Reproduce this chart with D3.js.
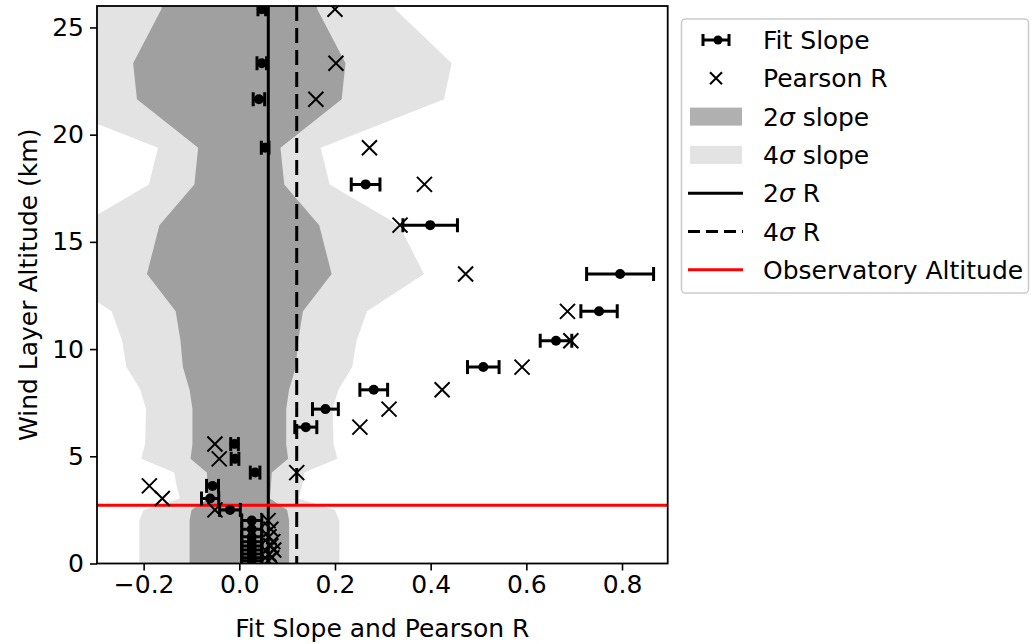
<!DOCTYPE html>
<html>
<head>
<meta charset="utf-8">
<script src="https://cdn.jsdelivr.net/npm/d3@7"></script>
<style>
  body { margin: 0; background: #fff; }
  svg { display: block; font-family: "DejaVu Sans", sans-serif; }
</style>
</head>
<body>
<svg id="chart" width="1033" height="644"></svg>
<script>
// ---- data ----
const altitudes = [0.13, 0.27, 0.44, 0.63, 0.82, 1.02, 1.25, 1.60, 2.00, 2.50, 3.03, 3.62, 4.24, 4.88, 5.57, 6.36, 7.20, 8.10, 9.16, 10.39, 11.76, 13.50, 15.78, 17.68, 19.39, 21.65, 23.33, 25.85];
const fitSlope  = [0.026, 0.026, 0.026, 0.026, 0.026, 0.026, 0.026, 0.026, 0.026, -0.0195, -0.061, -0.056, 0.033, -0.009, -0.010, 0.139, 0.180, 0.281, 0.510, 0.662, 0.752, 0.796, 0.399, 0.264, 0.054, 0.041, 0.047, 0.047];
const fitErr    = [0.021, 0.021, 0.021, 0.021, 0.021, 0.021, 0.021, 0.021, 0.021, 0.0216, 0.018, 0.0125, 0.010, 0.008, 0.008, 0.023, 0.027, 0.029, 0.033, 0.033, 0.038, 0.070, 0.057, 0.030, 0.008, 0.012, 0.010, 0.008];
const pearsonR  = [0.060, 0.068, 0.062, 0.072, 0.066, 0.070, 0.062, 0.066, 0.060, -0.051, -0.161, -0.188, 0.120, -0.042, -0.051, 0.252, 0.313, 0.424, 0.591, 0.693, 0.686, 0.473, 0.336, 0.387, 0.272, 0.160, 0.202, 0.200];

// slope significance bands (half-widths)
const bandAlt   = [0.00, 2.00, 2.50, 3.03, 3.62, 4.24, 4.88, 5.57, 6.36, 7.20, 8.10, 9.16, 10.39, 11.76, 13.50, 15.78, 17.68, 19.39, 21.65, 23.33, 25.85, 26.00];
const sigma2    = [0.104, 0.104, 0.100, 0.064, 0.066, 0.068, 0.102, 0.098, 0.098, 0.098, 0.104, 0.118, 0.123, 0.133, 0.193, 0.167, 0.094, 0.086, 0.214, 0.222, 0.163, 0.162];
const sigma4    = [0.209, 0.209, 0.200, 0.124, 0.131, 0.136, 0.205, 0.197, 0.196, 0.195, 0.207, 0.236, 0.245, 0.267, 0.386, 0.334, 0.189, 0.170, 0.428, 0.444, 0.326, 0.324];

const r2sigma = 0.0606;
const r4sigma = 0.120;
const observatoryAlt = 2.72;

const xTicks = [-0.2, 0.0, 0.2, 0.4, 0.6, 0.8];
const yTicks = [0, 5, 10, 15, 20, 25];

const legendLabels = ["Fit Slope", "Pearson R", "2σ slope", "4σ slope", "2σ R", "4σ R", "Observatory Altitude"];

// ---- layout ----
const svg = d3.select("#chart");
const L = 97, R = 667.7, T = 6, B = 563.5;
const x = d3.scaleLinear().domain([-0.2975, 0.8955]).range([L, R]);
const y = d3.scaleLinear().domain([0, 26]).range([B, T]);

svg.append("defs").append("clipPath").attr("id", "clip")
  .append("rect").attr("x", L).attr("y", T).attr("width", R - L).attr("height", B - T);

const plot = svg.append("g").attr("clip-path", "url(#clip)");

const lightCol = "#e3e3e3", darkCol = "#a0a0a0";
const bandIdx = d3.range(bandAlt.length);

plot.append("path")
  .datum(bandIdx)
  .attr("fill", lightCol)
  .attr("d", d3.area().curve(d3.curveLinear)
    .y(i => y(bandAlt[i])).x0(i => x(-sigma4[i])).x1(i => x(sigma4[i])));

plot.append("path")
  .datum(bandIdx)
  .attr("fill", darkCol)
  .attr("d", d3.area().curve(d3.curveLinear)
    .y(i => y(bandAlt[i])).x0(i => x(-sigma2[i])).x1(i => x(sigma2[i])));

// vertical R significance lines
plot.append("line")
  .attr("x1", x(r2sigma)).attr("x2", x(r2sigma)).attr("y1", T).attr("y2", B)
  .attr("stroke", "#000").attr("stroke-width", 3);
plot.append("line")
  .attr("x1", x(r4sigma)).attr("x2", x(r4sigma)).attr("y1", T).attr("y2", B)
  .attr("stroke", "#000").attr("stroke-width", 3).attr("stroke-dasharray", "15,7");

// observatory altitude
plot.append("line")
  .attr("x1", L).attr("x2", R).attr("y1", y(observatoryAlt)).attr("y2", y(observatoryAlt))
  .attr("stroke", "#ff0000").attr("stroke-width", 3);

// error bars
const idx = d3.range(altitudes.length);
const eb = plot.append("g").attr("stroke", "#000").attr("stroke-width", 3);
idx.forEach(i => {
  const yy = y(altitudes[i]);
  const x0 = x(fitSlope[i] - fitErr[i]), x1 = x(fitSlope[i] + fitErr[i]);
  eb.append("line").attr("x1", x0).attr("x2", x1).attr("y1", yy).attr("y2", yy);
  eb.append("line").attr("x1", x0).attr("x2", x0).attr("y1", yy - 7).attr("y2", yy + 7);
  eb.append("line").attr("x1", x1).attr("x2", x1).attr("y1", yy - 7).attr("y2", yy + 7);
});
plot.append("g").selectAll("circle").data(idx).join("circle")
  .attr("cx", i => x(fitSlope[i])).attr("cy", i => y(altitudes[i])).attr("r", 5)
  .attr("fill", "#000");

// Pearson R crosses
const xs = 7.5;
plot.append("g").attr("stroke", "#000").attr("stroke-width", 2).attr("fill", "none")
  .selectAll("path").data(idx).join("path")
  .attr("d", i => {
    const cx = x(pearsonR[i]), cy = y(altitudes[i]);
    return `M${cx - xs},${cy - xs}L${cx + xs},${cy + xs}M${cx - xs},${cy + xs}L${cx + xs},${cy - xs}`;
  });

// ---- axes ----
const fs = 25;
const xAxis = svg.append("g").attr("transform", `translate(0,${B})`)
  .call(d3.axisBottom(x).tickValues(xTicks).tickFormat(d3.format(".1f")).tickSize(7).tickPadding(5));
const yAxis = svg.append("g").attr("transform", `translate(${L},0)`)
  .call(d3.axisLeft(y).tickValues(yTicks).tickFormat(d3.format("d")).tickSize(7).tickPadding(6));
[xAxis, yAxis].forEach(a => {
  a.select(".domain").remove();
  a.selectAll(".tick line").attr("stroke", "#000").attr("stroke-width", 1.6);
  a.selectAll(".tick text").attr("font-size", fs).attr("fill", "#000").attr("font-family", "DejaVu Sans");
});

// frame
svg.append("rect").attr("x", L).attr("y", T).attr("width", R - L).attr("height", B - T)
  .attr("fill", "none").attr("stroke", "#000").attr("stroke-width", 1.8);

// axis labels
svg.append("text").attr("x", (L + R) / 2).attr("y", 637).attr("text-anchor", "middle")
  .attr("font-size", fs).attr("fill", "#000").text("Fit Slope and Pearson R");
svg.append("text").attr("transform", `translate(37,${(T + B) / 2}) rotate(-90)`)
  .attr("text-anchor", "middle").attr("font-size", fs).attr("fill", "#000")
  .text("Wind Layer Altitude (km)");

// ---- legend ----
const lg = svg.append("g");
lg.append("rect").attr("x", 681.5).attr("y", 19).attr("width", 347).attr("height", 274).attr("rx", 4)
  .attr("fill", "#fff").attr("stroke", "#cccccc").attr("stroke-width", 1.6);
const rowY = d => 40 + d * 38.3;
const hx0 = 688, hx1 = 743, hc = 716;

legendLabels.forEach((lab, k) => {
  const cy = rowY(k);
  const g = lg.append("g");
  if (k === 0) {
    g.append("line").attr("x1", hc - 13).attr("x2", hc + 13).attr("y1", cy).attr("y2", cy).attr("stroke", "#000").attr("stroke-width", 3);
    g.append("line").attr("x1", hc - 13).attr("x2", hc - 13).attr("y1", cy - 6).attr("y2", cy + 6).attr("stroke", "#000").attr("stroke-width", 3);
    g.append("line").attr("x1", hc + 13).attr("x2", hc + 13).attr("y1", cy - 6).attr("y2", cy + 6).attr("stroke", "#000").attr("stroke-width", 3);
    g.append("circle").attr("cx", hc + 2).attr("cy", cy).attr("r", 4.5).attr("fill", "#000");
  } else if (k === 1) {
    const s = 6;
    g.append("path").attr("d", `M${hc - s},${cy - s}L${hc + s},${cy + s}M${hc - s},${cy + s}L${hc + s},${cy - s}`)
      .attr("stroke", "#000").attr("stroke-width", 2);
  } else if (k === 2 || k === 3) {
    g.append("rect").attr("x", 690).attr("y", cy - 9).attr("width", 52).attr("height", 18)
      .attr("fill", k === 2 ? "#b0b0b0" : "#e3e3e3");
  } else {
    const ln = g.append("line").attr("x1", hx0).attr("x2", hx1).attr("y1", cy).attr("y2", cy)
      .attr("stroke", k === 6 ? "#ff0000" : "#000").attr("stroke-width", 3);
    if (k === 5) ln.attr("stroke-dasharray", "12,6");
  }
  const t = g.append("text").attr("x", 763).attr("y", cy).attr("dy", "0.36em")
    .attr("font-size", fs).attr("fill", "#000");
  if (lab.includes("σ")) {
    const parts = lab.split("σ");
    t.append("tspan").text(parts[0]);
    t.append("tspan").attr("font-style", "italic").text("σ");
    t.append("tspan").text(parts[1]);
  } else {
    t.text(lab);
  }
});
</script>
</body>
</html>
